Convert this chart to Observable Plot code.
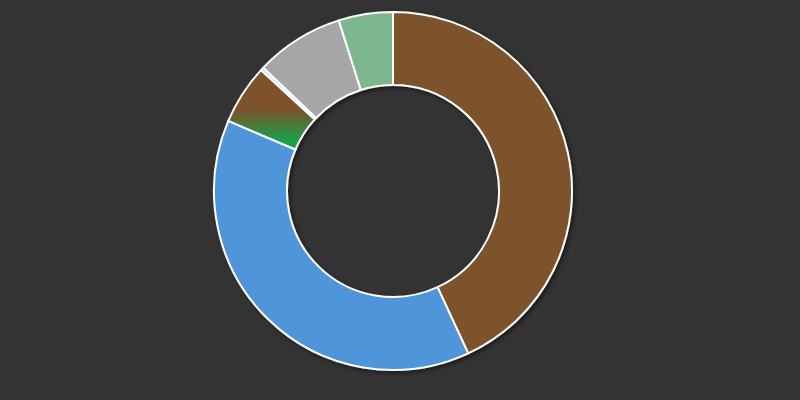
<!DOCTYPE html>
<html>
<head>
<meta charset="utf-8">
<script src="https://cdn.jsdelivr.net/npm/d3@7"></script>
<script src="https://cdn.jsdelivr.net/npm/@observablehq/plot@0.6"></script>
<style>
  html, body { margin: 0; padding: 0; background: #333333; }
  #chart { width: 800px; height: 400px; }
</style>
</head>
<body>
<div id="chart"></div>
<script>
// Data (clockwise from 12 o'clock)
const categories = ["A", "B", "C", "D", "E", "F"];
const values = [43.1, 38.3, 5.4, 0.3, 8.0, 4.9];
const colors = ["#7b522a", "#4f95da", "url(#gradC)", "#cfe4f6", "#a6a6a6", "#7cb78d"];

const data = categories.map((c, i) => ({category: c, value: values[i]}));

const innerRatio = 106 / 179;

function donut(index, scales, vals, dimensions, context) {
  const cx = scales.x(0), cy = scales.y(0);
  const R = Math.abs(scales.x(1) - scales.x(0));
  const pie = d3.pie().sort(null).value(d => d.value)(data);
  const arc = d3.arc().innerRadius(R * innerRatio).outerRadius(R);
  const g = d3.create("svg:g");
  const defs = g.append("defs");
  const grad = defs.append("linearGradient")
    .attr("id", "gradC").attr("x1", 0).attr("y1", 0).attr("x2", 0).attr("y2", 1);
  grad.append("stop").attr("offset", 0).attr("stop-color", "#7b522a");
  grad.append("stop").attr("offset", 0.5).attr("stop-color", "#7b522a");
  grad.append("stop").attr("offset", 0.9).attr("stop-color", "#15a24a");
  grad.append("stop").attr("offset", 1).attr("stop-color", "#15a24a");
  const f = defs.append("filter").attr("id", "shadow")
    .attr("x", "-20%").attr("y", "-20%").attr("width", "140%").attr("height", "140%");
  f.append("feDropShadow").attr("dx", 2).attr("dy", 2).attr("stdDeviation", 2)
    .attr("flood-color", "#000").attr("flood-opacity", 0.5);
  const cs = g.append("g").attr("transform", `translate(${cx},${cy})`).attr("filter", "url(#shadow)");
  cs.selectAll("path").data(pie).join("path")
    .attr("d", arc)
    .attr("fill", d => scales.color(d.data.category))
    .attr("stroke", "#ffffff")
    .attr("stroke-width", 2)
    .attr("stroke-linejoin", "round");
  return g.node();
}

const chart = Plot.plot({
  width: 800,
  height: 400,
  margin: 0,
  style: {background: "#333333"},
  x: {domain: [-1, 1], range: [214, 572], axis: null},
  y: {domain: [-1, 1], range: [370, 12], axis: null},
  color: {domain: categories, range: colors, type: "ordinal"},
  marks: [donut]
});
document.getElementById("chart").appendChild(chart);
</script>
</body>
</html>
